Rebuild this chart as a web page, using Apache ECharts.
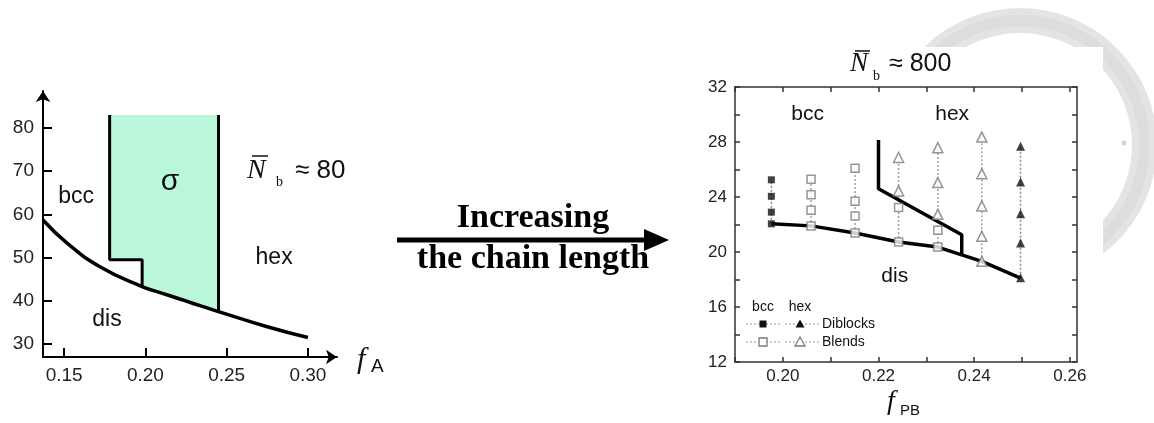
<!DOCTYPE html>
<html>
<head>
<meta charset="utf-8">
<script src="https://cdn.jsdelivr.net/npm/echarts@6/dist/echarts.min.js"></script>
<style>html,body{margin:0;padding:0;background:#fff}#c{width:1154px;height:423px}</style>
</head>
<body>
<div id="c"></div>
<script>
// ---------- Left panel (N_b ~ 80) ----------
const leftXTicks = [0.15, 0.20, 0.25, 0.30];
const leftYTicks = [30, 40, 50, 60, 70, 80];
const disCurve = [[0.137, 58.7], [0.152, 53.3], [0.172, 47.9], [0.198, 43.3], [0.21, 41.8], [0.223, 40.2], [0.235, 38.7], [0.245, 37.5], [0.275, 34.0], [0.30, 31.5]];
const sigmaLeftEdge = [[0.178, 83], [0.178, 49.5], [0.198, 49.5], [0.198, 43.3]];
const sigmaRightEdge = [[0.245, 83], [0.245, 37.5]];
const leftLabels = [
  { name: 'bcc', x: 0.1574, y: 64.0, size: 23 },
  { name: 'σ', x: 0.2152, y: 67.6, size: 30 },
  { name: 'hex', x: 0.2792, y: 50.1, size: 23 },
  { name: 'dis', x: 0.1764, y: 35.6, size: 23 }
];

// ---------- Right panel (N_b ~ 800) ----------
const rightXLabels = [0.20, 0.22, 0.24, 0.26];
const rightXTicks = [0.19, 0.20, 0.21, 0.22, 0.23, 0.24, 0.25, 0.26];
const rightYLabels = [12, 16, 20, 24, 28, 32];
const rightYTicks = [12, 14, 16, 18, 20, 22, 24, 26, 28, 30, 32];
const bccDiblocks = [[0.1976, 25.25], [0.1976, 24.05], [0.1976, 22.9], [0.1976, 22.05]];
const bccBlends = [
  [0.2059, 25.3], [0.2059, 24.17], [0.2059, 23.03], [0.2059, 21.9],
  [0.2151, 26.1], [0.2151, 23.69], [0.2151, 22.62], [0.2151, 21.38],
  [0.2242, 23.23], [0.2242, 20.73],
  [0.2324, 21.58], [0.2324, 20.36]
];
const hexBlends = [
  [0.2242, 26.87], [0.2242, 24.44],
  [0.2324, 27.59], [0.2324, 25.05], [0.2324, 22.74],
  [0.2416, 28.36], [0.2416, 25.7], [0.2416, 23.35], [0.2416, 21.14], [0.2416, 19.32]
];
const hexDiblocks = [[0.2497, 27.69], [0.2497, 25.09], [0.2497, 22.79], [0.2497, 20.65], [0.2497, 18.13]];
const odtBoundary = [[0.1976, 22.05], [0.2059, 21.9], [0.2151, 21.38], [0.2242, 20.73], [0.2324, 20.36], [0.2416, 19.32], [0.2497, 18.1]];
const bccHexBoundary = [[0.2200, 28.15], [0.2200, 24.6], [0.2374, 21.25], [0.2374, 19.8]];
const rightLabels = [
  { name: 'bcc', x: 0.2052, y: 30.0, size: 21 },
  { name: 'hex', x: 0.2354, y: 30.0, size: 21 },
  { name: 'dis', x: 0.2234, y: 18.25, size: 21 }
];

// helpers built from the arrays above
function columnsOf(points) {
  const m = {};
  points.forEach(p => {
    const k = p[0];
    if (!m[k]) m[k] = [k, p[1], p[1]];
    m[k][1] = Math.min(m[k][1], p[1]);
    m[k][2] = Math.max(m[k][2], p[1]);
  });
  return Object.values(m);
}
const blendColumns = columnsOf(bccBlends.concat(hexBlends));
const diblockColumns = columnsOf(bccDiblocks.concat(hexDiblocks));
const sigmaLo = sigmaRightEdge[1][0], sigmaHi = sigmaLeftEdge[3][0];
const sigmaRegion = [sigmaLeftEdge[0], sigmaRightEdge[0], sigmaRightEdge[1]]
  .concat(disCurve.filter(p => p[0] < sigmaLo && p[0] > sigmaHi).reverse())
  .concat([sigmaLeftEdge[3], sigmaLeftEdge[2], sigmaLeftEdge[1]]);

function textSeries(labels, xi, yi) {
  return {
    type: 'custom', xAxisIndex: xi, yAxisIndex: yi, z: 10,
    data: labels.map(l => [l.x, l.y]),
    renderItem: (params, api) => {
      const l = labels[params.dataIndex];
      const p = api.coord([l.x, l.y]);
      return { type: 'text', x: p[0], y: p[1],
        style: { text: l.name, fill: '#111', fontSize: l.size, fontFamily: 'Liberation Sans, Arial, sans-serif', align: 'center', verticalAlign: 'middle' } };
    }
  };
}
function columnSeries(cols, color) {
  return {
    type: 'custom', xAxisIndex: 1, yAxisIndex: 1, z: 3,
    data: cols,
    renderItem: (params, api) => {
      const a = api.coord([api.value(0), api.value(1)]);
      const b = api.coord([api.value(0), api.value(2)]);
      return { type: 'line', shape: { x1: a[0], y1: a[1], x2: b[0], y2: b[1] },
        style: { stroke: color, lineWidth: 1.5, lineDash: [2, 2] } };
    }
  };
}

const axisFont = 'Liberation Sans, Arial, sans-serif';
const chart = echarts.init(document.getElementById('c'), null, { renderer: 'canvas' });
const leftAxisLine = { show: true, onZero: false, lineStyle: { color: '#000', width: 2 }, symbol: ['none', 'arrow'], symbolSize: [11, 11] };
const rAxisLine = { show: true, onZero: false, lineStyle: { color: '#333', width: 1.5 } };
const rTick = { show: true, inside: true, length: 5, lineStyle: { color: '#333', width: 1.5 } };

const option = {
  animation: false,
  backgroundColor: '#fff',
  grid: [
    { left: 43, top: 91, right: 817, bottom: 66 },
    { left: 735, top: 87, right: 77, bottom: 61 }
  ],
  xAxis: [
    { gridIndex: 0, type: 'value', min: 0.137, max: 0.3179, axisLine: leftAxisLine,
      axisTick: { show: true, inside: true, length: 9, customValues: leftXTicks, lineStyle: { color: '#000', width: 2 } },
      axisLabel: { customValues: leftXTicks, formatter: v => v.toFixed(2), fontSize: 19, color: '#222', fontFamily: axisFont, margin: 9 },
      splitLine: { show: false } },
    { gridIndex: 1, type: 'value', position: 'bottom', min: 0.19, max: 0.2615, axisLine: rAxisLine,
      axisTick: Object.assign({ customValues: rightXTicks }, rTick),
      axisLabel: { customValues: rightXLabels, formatter: v => v.toFixed(2), fontSize: 17, color: '#222', fontFamily: axisFont, margin: 6 },
      splitLine: { show: false } },
    { gridIndex: 1, type: 'value', position: 'top', min: 0.19, max: 0.2615, axisLine: rAxisLine,
      axisTick: Object.assign({ customValues: rightXTicks }, rTick),
      axisLabel: { show: false }, splitLine: { show: false } }
  ],
  yAxis: [
    { gridIndex: 0, type: 'value', min: 27, max: 88.56, axisLine: leftAxisLine,
      axisTick: { show: true, inside: true, length: 9, customValues: leftYTicks, lineStyle: { color: '#000', width: 2 } },
      axisLabel: { customValues: leftYTicks, fontSize: 19, color: '#222', fontFamily: axisFont, margin: 9 },
      splitLine: { show: false } },
    { gridIndex: 1, type: 'value', position: 'left', min: 12, max: 32, axisLine: rAxisLine,
      axisTick: Object.assign({ customValues: rightYTicks }, rTick),
      axisLabel: { customValues: rightYLabels, fontSize: 17, color: '#222', fontFamily: axisFont, margin: 8 },
      splitLine: { show: false } },
    { gridIndex: 1, type: 'value', position: 'right', min: 12, max: 32, axisLine: rAxisLine,
      axisTick: Object.assign({ customValues: rightYTicks }, rTick),
      axisLabel: { show: false }, splitLine: { show: false } }
  ],
  series: [
    // left panel
    { type: 'custom', xAxisIndex: 0, yAxisIndex: 0, z: 1, data: [0],
      renderItem: (params, api) => ({ type: 'polygon', shape: { points: sigmaRegion.map(p => api.coord(p)) },
        style: { fill: '#b9f6da' } }) },
    { type: 'line', xAxisIndex: 0, yAxisIndex: 0, data: disCurve, smooth: true, showSymbol: false,
      lineStyle: { color: '#000', width: 3.5 }, z: 4 },
    { type: 'line', xAxisIndex: 0, yAxisIndex: 0, data: sigmaLeftEdge, showSymbol: false,
      lineStyle: { color: '#000', width: 3 }, z: 4 },
    { type: 'line', xAxisIndex: 0, yAxisIndex: 0, data: sigmaRightEdge, showSymbol: false,
      lineStyle: { color: '#000', width: 3 }, z: 4 },
    textSeries(leftLabels, 0, 0),
    // right panel
    columnSeries(blendColumns, '#a0a0a0'),
    columnSeries(diblockColumns, '#888'),
    { type: 'line', xAxisIndex: 1, yAxisIndex: 1, data: odtBoundary, showSymbol: false,
      lineStyle: { color: '#000', width: 3.5 }, z: 4 },
    { type: 'line', xAxisIndex: 1, yAxisIndex: 1, data: bccHexBoundary, showSymbol: false,
      lineStyle: { color: '#000', width: 3.5 }, z: 4 },
    { type: 'scatter', xAxisIndex: 1, yAxisIndex: 1, data: bccDiblocks, symbol: 'rect', symbolSize: 7,
      itemStyle: { color: '#111' }, z: 6 },
    { type: 'scatter', xAxisIndex: 1, yAxisIndex: 1, data: bccBlends, symbol: 'rect', symbolSize: 8,
      itemStyle: { color: '#fff', borderColor: '#7a7a7a', borderWidth: 1.5 }, z: 6 },
    { type: 'scatter', xAxisIndex: 1, yAxisIndex: 1, data: hexBlends, symbol: 'triangle', symbolSize: 10,
      itemStyle: { color: '#fff', borderColor: '#7a7a7a', borderWidth: 1.5 }, z: 6 },
    { type: 'scatter', xAxisIndex: 1, yAxisIndex: 1, data: hexDiblocks, symbol: 'triangle', symbolSize: 9,
      itemStyle: { color: '#111' }, z: 6 },
    textSeries(rightLabels, 1, 1)
  ],
  graphic: [
    // faint seal watermark behind the right figure
    { type: 'ring', shape: { cx: 1020, cy: 145, r: 137, r0: 112 }, style: { fill: '#e4e4e4' }, z: -20 },
    { type: 'ring', shape: { cx: 1020, cy: 145, r: 130, r0: 119 }, style: { fill: '#d6d6d6', opacity: 0.5 }, z: -20 },
    { type: 'circle', shape: { cx: 1124, cy: 143, r: 2.5 }, style: { fill: '#d4d4d4' }, z: -20 },
    { type: 'rect', shape: { x: 700, y: 47, width: 403, height: 376 }, style: { fill: '#fff' }, z: -19 },
    // arrow
    { type: 'line', shape: { x1: 397, y1: 240, x2: 650, y2: 240 }, style: { stroke: '#000', lineWidth: 5 } },
    { type: 'polygon', shape: { points: [[644, 229], [669, 240], [644, 251]] }, style: { fill: '#000' } },
    { type: 'text', x: 533, y: 218, style: { text: 'Increasing', font: 'bold 34px "Liberation Serif", serif', fill: '#000', align: 'center', verticalAlign: 'middle' } },
    { type: 'text', x: 533, y: 259, style: { text: 'the chain length', font: 'bold 34px "Liberation Serif", serif', fill: '#000', align: 'center', verticalAlign: 'middle' } },
    // left annotation N_b ~ 80
    { type: 'text', x: 247, y: 171, style: { text: 'N', font: 'italic 28px "Liberation Serif", serif', fill: '#111', align: 'left', verticalAlign: 'middle' } },
    { type: 'line', shape: { x1: 252, y1: 156, x2: 268, y2: 156 }, style: { stroke: '#111', lineWidth: 1.5 } },
    { type: 'text', x: 276, y: 182, style: { text: 'b', font: '14px "Liberation Serif", serif', fill: '#111', align: 'left', verticalAlign: 'middle' } },
    { type: 'text', x: 295, y: 171, style: { text: '≈ 80', font: '26px "Liberation Sans", Arial, sans-serif', fill: '#111', align: 'left', verticalAlign: 'middle' } },
    // f_A
    { type: 'text', x: 357, y: 360, style: { text: 'f', font: 'italic 30px "Liberation Serif", serif', fill: '#111', align: 'left', verticalAlign: 'middle' } },
    { type: 'text', x: 371, y: 367, style: { text: 'A', font: '19px "Liberation Sans", Arial, sans-serif', fill: '#111', align: 'left', verticalAlign: 'middle' } },
    // right title N_b ~ 800
    { type: 'text', x: 850, y: 64, style: { text: 'N', font: 'italic 27px "Liberation Serif", serif', fill: '#111', align: 'left', verticalAlign: 'middle' } },
    { type: 'line', shape: { x1: 855, y1: 51, x2: 870, y2: 51 }, style: { stroke: '#111', lineWidth: 1.5 } },
    { type: 'text', x: 873, y: 76, style: { text: 'b', font: '14px "Liberation Serif", serif', fill: '#111', align: 'left', verticalAlign: 'middle' } },
    { type: 'text', x: 889, y: 64, style: { text: '≈ 800', font: '25px "Liberation Sans", Arial, sans-serif', fill: '#111', align: 'left', verticalAlign: 'middle' } },
    // f_PB
    { type: 'text', x: 887, y: 402, style: { text: 'f', font: 'italic 28px "Liberation Serif", serif', fill: '#111', align: 'left', verticalAlign: 'middle' } },
    { type: 'text', x: 900, y: 411, style: { text: 'PB', font: '15px "Liberation Sans", Arial, sans-serif', fill: '#111', align: 'left', verticalAlign: 'middle' } },
    // legend inside right panel
    { type: 'text', x: 763, y: 307, style: { text: 'bcc', font: '14px "Liberation Sans", Arial, sans-serif', fill: '#111', align: 'center', verticalAlign: 'middle' } },
    { type: 'text', x: 800, y: 307, style: { text: 'hex', font: '14px "Liberation Sans", Arial, sans-serif', fill: '#111', align: 'center', verticalAlign: 'middle' } },
    { type: 'line', shape: { x1: 746, y1: 324, x2: 781, y2: 324 }, style: { stroke: '#999', lineWidth: 1.2, lineDash: [2, 2] } },
    { type: 'line', shape: { x1: 785, y1: 324, x2: 819, y2: 324 }, style: { stroke: '#999', lineWidth: 1.2, lineDash: [2, 2] } },
    { type: 'line', shape: { x1: 746, y1: 342, x2: 781, y2: 342 }, style: { stroke: '#aaa', lineWidth: 1.2, lineDash: [2, 2] } },
    { type: 'line', shape: { x1: 785, y1: 342, x2: 819, y2: 342 }, style: { stroke: '#aaa', lineWidth: 1.2, lineDash: [2, 2] } },
    { type: 'rect', shape: { x: 759.5, y: 320.5, width: 7, height: 7 }, style: { fill: '#111' } },
    { type: 'polygon', shape: { points: [[800, 319.5], [804.5, 327.5], [795.5, 327.5]] }, style: { fill: '#111' } },
    { type: 'rect', shape: { x: 759, y: 338, width: 8, height: 8 }, style: { fill: '#fff', stroke: '#7a7a7a', lineWidth: 1.3 } },
    { type: 'polygon', shape: { points: [[800, 337], [805, 346], [795, 346]] }, style: { fill: '#fff', stroke: '#7a7a7a', lineWidth: 1.3 } },
    { type: 'text', x: 822, y: 324, style: { text: 'Diblocks', font: '14px "Liberation Sans", Arial, sans-serif', fill: '#111', align: 'left', verticalAlign: 'middle' } },
    { type: 'text', x: 822, y: 342, style: { text: 'Blends', font: '14px "Liberation Sans", Arial, sans-serif', fill: '#111', align: 'left', verticalAlign: 'middle' } }
  ]
};
chart.setOption(option);
</script>
</body>
</html>
